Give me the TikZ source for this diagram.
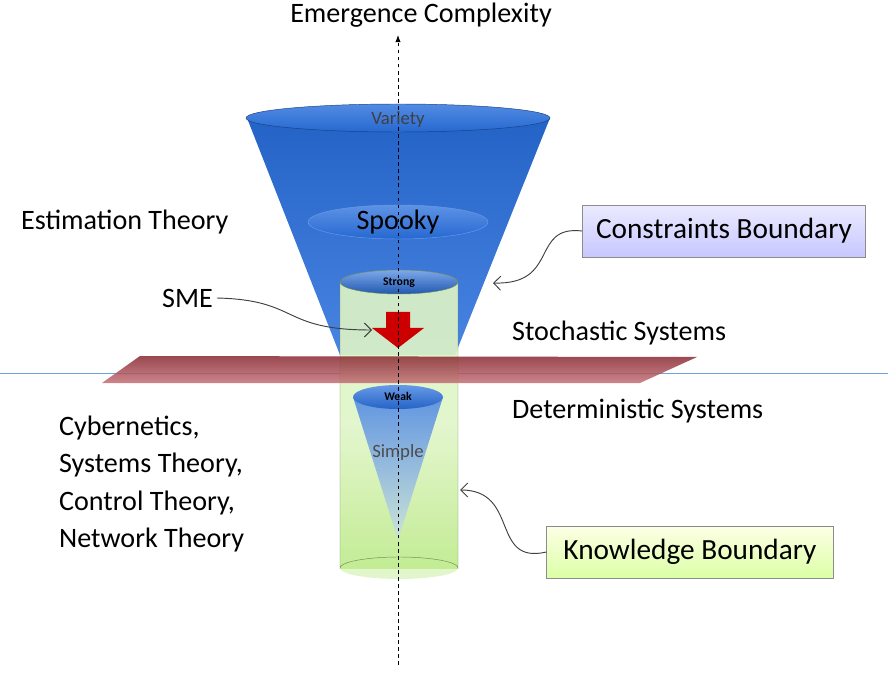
\documentclass[tikz,border=0pt]{standalone}
\usepackage{fontspec}
\setmainfont{Carlito}
\usetikzlibrary{arrows.meta,shapes.geometric}
\definecolor{coneblue}{RGB}{40,110,220}
\definecolor{cylgreen}{RGB}{190,235,140}
\definecolor{planered}{RGB}{170,50,60}
\tikzset{
  lbl/.style={font=\fontsize{24}{32}\selectfont, anchor=west},
  inner/.style={font=\fontsize{16}{18}\selectfont},
  boxlbl/.style={draw=black!45, font=\fontsize{25}{27}\selectfont, minimum height=1.55cm, inner xsep=8pt},
  pointer/.style={-{Straight Barb[length=6pt]}, black!75, thick},
}
\begin{document}
\begin{tikzpicture}[x=0.03cm,y=-0.03cm]
    \useasboundingbox (0,0) rectangle (888,679);
    % axis line
    \draw[cyan!60!blue!60, thick] (0,373) -- (888,373);
    % upper cone
    \shade[top color=coneblue!90!black, bottom color=coneblue!85]
        (247,118) -- (340,355) -- (455,355) -- (550,118) -- cycle;
    \shade[top color=coneblue!80!white, bottom color=coneblue!95!black]
        (398,118) ellipse (152 and 14);
    \draw[coneblue!60!black, thin] (398,118) ellipse (152 and 14);
    \shade[top color=coneblue!75!white, bottom color=coneblue!95!black]
        (398,222) ellipse (90 and 17);
    \draw[coneblue!70!white, thin] (398,222) ellipse (90 and 17);
    % cylinder
    \fill[cylgreen!50!white, opacity=0.9] (340,282) rectangle (458,568);
    \fill[cylgreen!50!white, opacity=0.9] (399,568) ellipse (59 and 11);
    \shade[top color=cylgreen!40!white, bottom color=cylgreen, opacity=0.85]
        (340,420) rectangle (458,568);
    % lower cone
    \shade[top color=coneblue!80, bottom color=cylgreen!60!coneblue!40, opacity=0.9]
        (353,397) -- (398,540) -- (443,397) -- cycle;
    \shade[top color=coneblue!70!white, bottom color=coneblue!90!black]
        (398,397) ellipse (45 and 12);
    \draw[cylgreen!60!black] (340,282) -- (340,568) arc (180:360:59 and 11) -- (458,282);
    \shade[top color=coneblue!60!white, bottom color=coneblue!80!black]
        (399,282) ellipse (59 and 12);
    \draw[cylgreen!60!black] (399,282) ellipse (59 and 12);
    % red arrow
    \fill[red!80!black] (386,312) -- (410,312) -- (410,328) -- (424,328)
        -- (398,348) -- (372,328) -- (386,328) -- cycle;
    % plane
    \shade[top color=planered!80!black, bottom color=planered!70, opacity=0.85]
        (102,383) -- (140,356) -- (697,357) -- (640,383) -- cycle;
    % dashed axis
    \coordinate (axtop) at (398,35);
    \coordinate (axbot) at (398,665);
    \draw[dashed, thick, -{Latex[length=6pt]}] (axbot) -- (axtop);
    % labels
    \node[font=\fontsize{24}{26}\selectfont] (emerg) at (421,15) {Emergence Complexity};
    \node[inner, black!75] (variety) at (398,120) {Variety};
    \node[font=\fontsize{24}{26}\selectfont] (spooky) at (398,222) {Spooky};
    \node[inner, font=\bfseries] (strong) at (399,283) {Strong};
    \node[inner, font=\bfseries] (weak) at (398,396) {Weak};
    \node[inner, black!70] (simple) at (398,453) {Simple};
    \node[lbl] (estim) at (17,222) {Estimation Theory};
    \node[lbl] (sme) at (158,298) {SME};
    \node[lbl] (stoch) at (508,333) {Stochastic Systems};
    \node[lbl] (determ) at (508,411) {Deterministic Systems};
    \node[lbl, align=left] (cyber) at (55,484)
        {Cybernetics,\\Systems Theory,\\Control Theory,\\Network Theory};
    \node[boxlbl, top color=blue!8, bottom color=blue!22, minimum width=8.5cm] (constr) at (724,231) {Constraints Boundary};
    \node[boxlbl, top color=green!8!yellow!10, bottom color=green!40!yellow!35, minimum width=8.6cm] (know) at (690,552) {Knowledge Boundary};
    % pointers
    \coordinate (conept) at (493,283);
    \coordinate (cylpt) at (460,490);
    \coordinate (arrpt) at (372,330);
    \draw[pointer] (constr.west) .. controls (530,225) and (560,285) .. (conept);
    \draw[pointer] (know.west) .. controls (490,565) and (520,490) .. (cylpt);
    \draw[pointer] (sme.east) .. controls (300,300) and (280,330) .. (arrpt);
\end{tikzpicture}
\end{document}
